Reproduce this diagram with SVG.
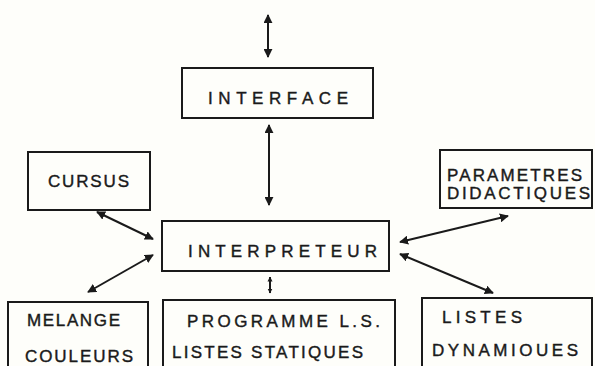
<svg xmlns="http://www.w3.org/2000/svg" width="595" height="366" viewBox="0 0 595 366">
<style>
.box{fill:none;stroke:#1a1a1a;stroke-width:2}
.t{font-family:"Liberation Sans",Arial,sans-serif;fill:#1a1a1a;stroke:#1a1a1a;stroke-width:0.4;font-size:17px}
.c{stroke:#1a1a1a;stroke-width:2;fill:none;marker-start:url(#ah);marker-end:url(#ah)}
.s{stroke:#1a1a1a;stroke-width:2;fill:none;marker-start:url(#ahs);marker-end:url(#ahs)}
</style>
<defs>
<marker id="ah" viewBox="0 0 10 10" refX="9" refY="5" markerWidth="4.5" markerHeight="4.5" orient="auto-start-reverse" markerUnits="strokeWidth">
<path d="M0,0 L10,5 L0,10 z" fill="#1a1a1a"/>
</marker>
<marker id="ahs" viewBox="0 0 10 10" refX="9" refY="5" markerWidth="2.5" markerHeight="3" orient="auto-start-reverse" markerUnits="strokeWidth">
<path d="M0,0 L10,5 L0,10 z" fill="#1a1a1a"/>
</marker>
</defs>
<rect width="595" height="366" fill="#fefefa"/>
<g id="connectors">
<line class="c" x1="268" y1="15" x2="268" y2="57"/>
<line class="c" x1="269" y1="125" x2="269" y2="205"/>
<line class="s" x1="270" y1="277" x2="270" y2="293"/>
<line class="c" x1="97" y1="212" x2="153" y2="239"/>
<line class="c" x1="153" y1="255" x2="88" y2="292"/>
<line class="c" x1="508" y1="216" x2="400" y2="242"/>
<line class="c" x1="400" y1="254" x2="493" y2="293"/>
</g>
<g id="interface">
<rect class="box" x="182" y="68" width="191" height="50"/>
<text class="t" x="208" y="104" font-size="20" textLength="140" lengthAdjust="spacing">INTERFACE</text>
</g>
<g id="interpreteur">
<rect class="box" x="162" y="221" width="227" height="50"/>
<text class="t" x="188" y="257" font-size="21" textLength="189" lengthAdjust="spacing">INTERPRETEUR</text>
</g>
<g id="cursus">
<rect class="box" x="28" y="152" width="122" height="58"/>
<text class="t" x="48" y="187" font-size="19" textLength="81" lengthAdjust="spacing">CURSUS</text>
</g>
<g id="parametres">
<rect class="box" x="440" y="150" width="152" height="58"/>
<text class="t" x="447" y="181" font-size="16" textLength="135" lengthAdjust="spacing">PARAMETRES</text>
<text class="t" x="447" y="199" font-size="15" textLength="143" lengthAdjust="spacing">DIDACTIQUES</text>
</g>
<g id="melange">
<rect class="box" x="8" y="302" width="140" height="70"/>
<text class="t" x="27" y="326" font-size="19" textLength="93" lengthAdjust="spacing">MELANGE</text>
<text class="t" x="25" y="362" font-size="20" textLength="108" lengthAdjust="spacing">COULEURS</text>
</g>
<g id="programme">
<rect class="box" x="163" y="300" width="232" height="72"/>
<text class="t" x="187" y="327" font-size="19" textLength="193" lengthAdjust="spacing">PROGRAMME L.S.</text>
<text class="t" x="172" y="358" font-size="21" textLength="191" lengthAdjust="spacing">LISTES STATIQUES</text>
</g>
<g id="listes-dynamiques">
<rect class="box" x="422" y="298" width="170" height="74"/>
<text class="t" x="442" y="323" font-size="20" textLength="80" lengthAdjust="spacing">LISTES</text>
<text class="t" x="432" y="356" font-size="20" textLength="146" lengthAdjust="spacing">DYNAMIOUES</text>
</g>
</svg>
